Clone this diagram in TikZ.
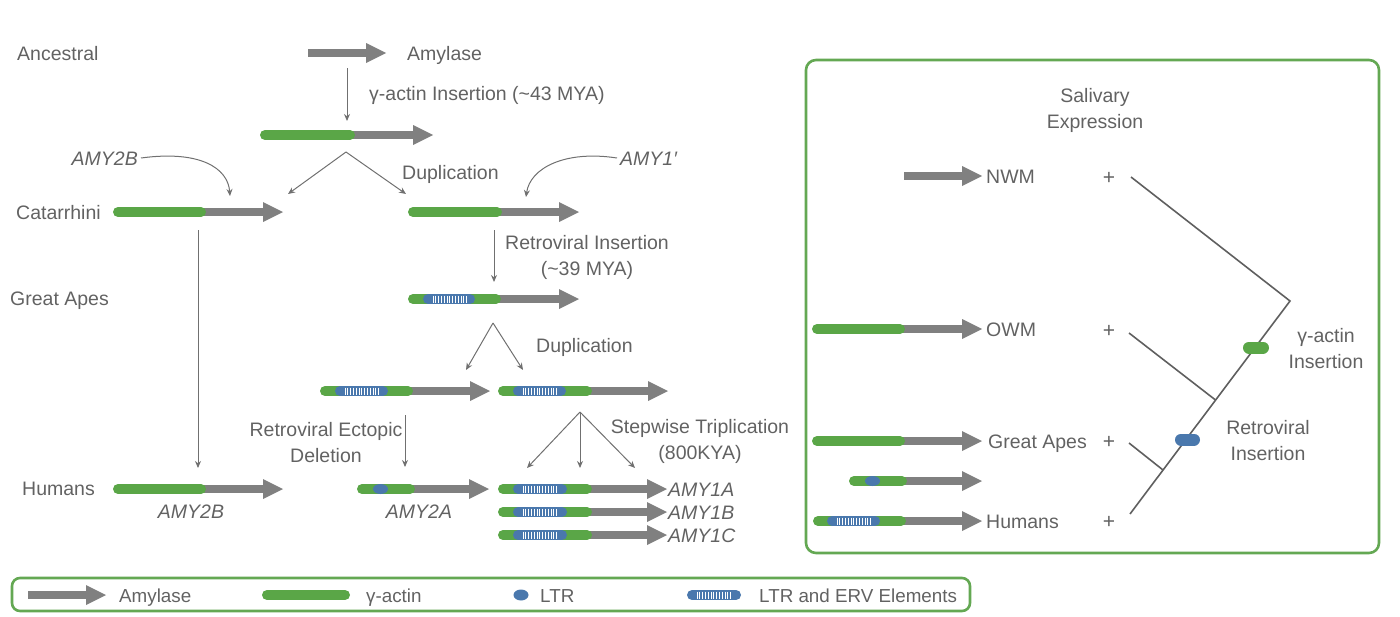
\documentclass[tikz,border=0pt]{standalone}
\usepackage{fontspec}
\setmainfont{Liberation Sans}
\usetikzlibrary{arrows.meta}
\definecolor{amyg}{HTML}{808080}
\definecolor{actg}{HTML}{5AA647}
\definecolor{ltrb}{HTML}{4A78AD}
\definecolor{txtg}{HTML}{626262}
\definecolor{frameg}{HTML}{64A853}
\definecolor{lineg}{HTML}{707070}
\newcommand\amyarr[3]{\fill[amyg] (#1,{#3-4}) rectangle ({#2-19},{#3+4});
  \fill[amyg] ({#2-20},{#3-10}) -- (#2,#3) -- ({#2-20},{#3+10}) -- cycle;}
\newcommand\actbar[3]{\draw[actg, line width=10pt, line cap=round] ({#1+5},#3) -- ({#2-5},#3);}
\newcommand\ltrbar[3]{\draw[ltrb, line width=10pt, line cap=round] ({#1+5},#3) -- ({#2-5},#3);}
\newcommand\ervstr[2]{\foreach \k in {0,...,12}{\draw[white, line width=0.8pt] ({#1+\k*2.8},{#2-3.5}) -- ++(0,7);}}
% gene: green start, green end, tip, y
\newcommand\genebar[4]{\amyarr{#2-10}{#3}{#4}\actbar{#1}{#2}{#4}}
\tikzset{
  lbl/.style={font=\fontsize{19.5}{26}\selectfont, text=txtg, inner sep=0pt},
  one/.style={lbl, text height=14pt, text depth=0pt},
  ilbl/.style={one, font=\fontsize{19.5}{26}\selectfont\itshape},
  leg/.style={one, font=\fontsize{18.8}{24}\selectfont},
  thin/.style={draw=lineg, line width=1pt, -{Stealth[length=7pt,width=6pt]}},
  tree/.style={draw=lineg!85!black, line width=1.6pt},
  frame/.style={draw=frameg, line width=2.6pt, rounded corners=10pt}
}
\begin{document}
\begin{tikzpicture}[x=1pt,y=-1pt]
\useasboundingbox (0,0) rectangle (1400,616);
% ---------- left: history ----------
\node[one, anchor=west] (anc) at (17,53) {Ancestral};
\amyarr{308}{386}{53}
\node[one, anchor=west] (amyT) at (407,53) {Amylase};
\coordinate (g1s) at (347,68); \coordinate (g1e) at (347,121);
\draw[thin] (g1s) -- (g1e);
\node[one, anchor=west] (gins) at (369,93) {γ-actin Insertion (\textasciitilde 43 MYA)};
\genebar{260}{355}{433}{135}
% duplication 1
\coordinate (d1) at (346,152); \coordinate (d1l) at (288,194); \coordinate (d1r) at (406,194);
\draw[thin] (d1) -- (d1l);
\draw[thin] (d1) -- (d1r);
\node[one, anchor=west] (dup1) at (402,172) {Duplication};
\node[ilbl, anchor=east] (amy2bT) at (138,158) {AMY2B};
\coordinate (c2b) at (230,196);
\draw[thin] ([xshift=3pt]amy2bT.east) .. controls (200,150) and (228,168) .. (c2b);
\node[ilbl, anchor=west] (amy1p) at (620,158) {AMY1′};
\coordinate (c1p) at (526,197);
\draw[thin] ([xshift=-3pt]amy1p.west) .. controls (565,150) and (530,168) .. (c1p);
\node[one, anchor=west] (cat) at (16,212) {Catarrhini};
\genebar{113}{206}{283}{212}
\genebar{408}{502}{579}{212}
% retroviral insertion
\coordinate (r1s) at (494,230); \coordinate (r1e) at (494,282);
\draw[thin] (r1s) -- (r1e);
\node[lbl, align=center] (rins) at (587,257) {Retroviral Insertion\\(\textasciitilde 39 MYA)};
\genebar{408}{501}{579}{299}
\ltrbar{423}{475}{299}\ervstr{433}{299}
\node[one, anchor=west] (gapes) at (10,298) {Great Apes};
% duplication 2
\coordinate (d2) at (493,323); \coordinate (d2l) at (466,370); \coordinate (d2r) at (523,370);
\draw[thin] (d2) -- (d2l);
\draw[thin] (d2) -- (d2r);
\node[one, anchor=west] (dup2) at (536,345) {Duplication};
\genebar{320}{413}{490}{391}
\ltrbar{335}{388}{391}\ervstr{345}{391}
\genebar{498}{592}{668}{391}
\ltrbar{513}{566}{391}\ervstr{523}{391}
% long vertical
\coordinate (vls) at (198,230); \coordinate (vle) at (198,468);
\draw[thin] (vls) -- (vle);
% ectopic deletion
\node[lbl, align=center] (rect) at (326,443) {Retroviral Ectopic\\Deletion};
\coordinate (eds) at (405,415); \coordinate (ede) at (405,467);
\draw[thin] (eds) -- (ede);
% triplication
\coordinate (t0) at (580,412); \coordinate (t1) at (527,468); \coordinate (t2) at (580,468); \coordinate (t3) at (635,468);
\draw[thin] (t0) -- (t1);
\draw[thin] (t0) -- (t2);
\draw[thin] (t0) -- (t3);
\node[lbl, align=center] (trip) at (700,441) {Stepwise Triplication\\(800KYA)};
% humans row
\node[one, anchor=west] (hum) at (22,488) {Humans};
\genebar{113}{206}{283}{489}
\node[ilbl] (amy2bB) at (191,511) {AMY2B};
\genebar{357}{415}{489}{489}
\fill[ltrb] (380.5,489) ellipse (7.5 and 5);
\node[ilbl] (amy2a) at (419,511) {AMY2A};
\foreach \yy/\nm in {489/A,512/B,535/C}{
  \genebar{498}{592}{667}{\yy}
  \ltrbar{513}{567}{\yy}\ervstr{523}{\yy}
  \node[ilbl, anchor=west] (amy1\nm) at (668,\yy) {AMY1\nm};
}
% ---------- right panel ----------
\draw[frame] (806,60) rectangle (1379,553);
\node[lbl, align=center] (sal) at (1095,110) {Salivary\\Expression};
\amyarr{904}{982}{176}
\node[one, anchor=west] (nwm) at (986,176) {NWM};
\genebar{812}{905}{982}{329}
\node[one, anchor=west] (owm) at (986,329) {OWM};
\genebar{812}{905}{982}{441}
\node[one, anchor=west] (gap) at (988,441) {Great Apes};
\genebar{849}{907}{982}{481}
\fill[ltrb] (872.5,481) ellipse (7.5 and 5);
\genebar{813}{906}{982}{521}
\ltrbar{827}{880}{521}\ervstr{837}{521}
\node[one, anchor=west] (humR) at (986,521) {Humans};
\foreach \yy/\nm in {177/a,330/b,441/c,521/d}{\node[one, font=\fontsize{21}{26}\selectfont] (plus\nm) at (1109,\yy) {+};}
% tree
\coordinate (root) at (1290,301);
\coordinate (tb) at (1130,514);
\coordinate (jo) at (1215.5,400);
\coordinate (jg) at (1163,470);
\coordinate (ln) at (1131,177);
\coordinate (lo) at (1129,333);
\coordinate (lg) at (1129,443);
\draw[tree] (ln) -- (root) -- (tb);
\draw[tree] (lo) -- (jo);
\draw[tree] (lg) -- (jg);
\draw[actg, line width=12pt, line cap=round] (1249,347.5) -- (1263,347.5);
\draw[ltrb, line width=12pt, line cap=round] (1181,439.5) -- (1194,439.5);
\node[lbl, align=center] (gact) at (1326,349) {γ-actin\\Insertion};
\node[lbl, align=center] (rvi) at (1268,441) {Retroviral\\Insertion};
% ---------- legend ----------
\draw[frame, rounded corners=8pt] (12,578) rectangle (970,611);
\amyarr{28}{106}{595}
\node[leg, anchor=west] (lgA) at (119,595) {Amylase};
\actbar{262}{350}{595}
\node[leg, anchor=west] (lgG) at (366,595) {γ-actin};
\fill[ltrb] (521,595) ellipse (7.5 and 5.5);
\node[leg, anchor=west] (lgL) at (540,595) {LTR};
\ltrbar{687}{741}{595}\ervstr{697}{595}
\node[leg, anchor=west] (lgE) at (759,595) {LTR and ERV Elements};
\end{tikzpicture}
\end{document}
